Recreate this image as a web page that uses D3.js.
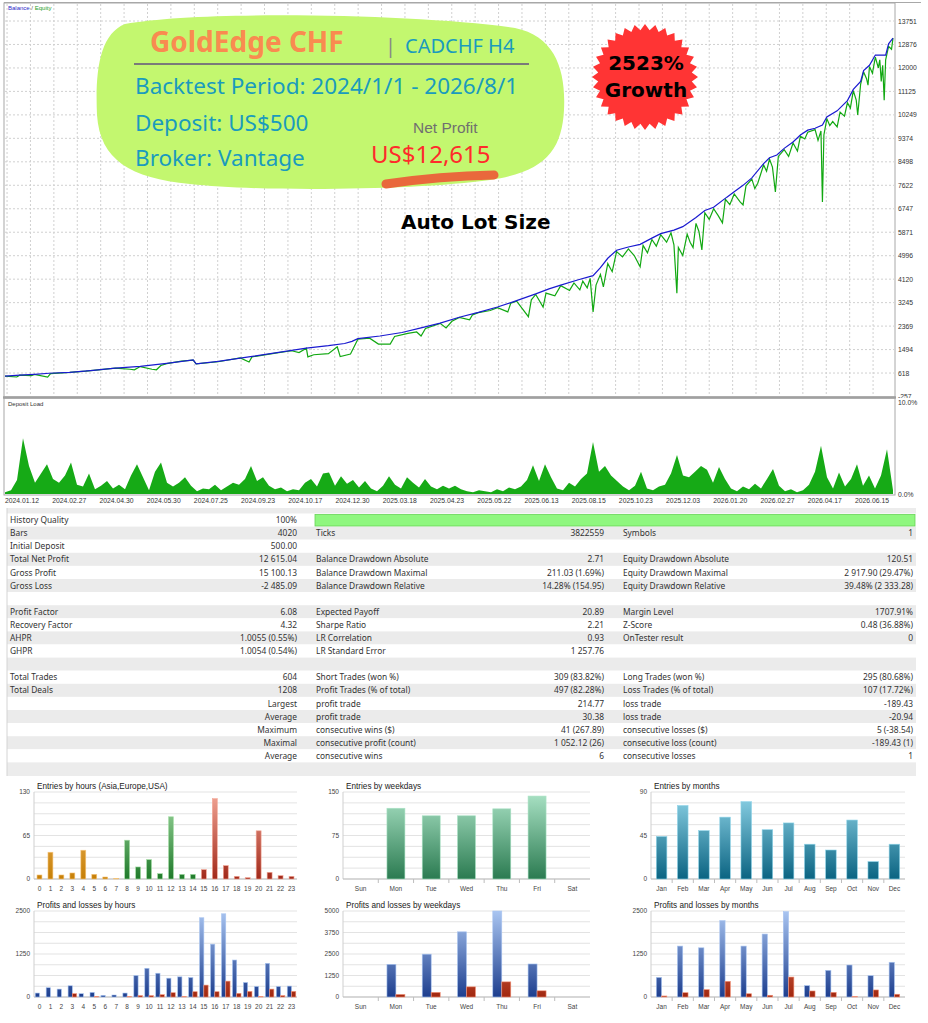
<!DOCTYPE html>
<html>
<head>
<meta charset="utf-8">
<script src="https://cdnjs.cloudflare.com/ajax/libs/d3/7.8.5/d3.min.js"></script>
<style>
body { margin: 0; background: #fff; }
svg { display: block; font-family: "Liberation Sans", Arial, sans-serif; }
</style>
</head>
<body>
<svg id="canvas" width="928" height="1023"></svg>
<script>
const balanceTicks = [13751, 12876, 12000, 11125, 10249, 9374, 8498, 7622, 6747, 5871, 4996, 4120, 3245, 2369, 1494, 618, -257];
const dateLabels = ["2024.01.12", "2024.02.27", "2024.04.30", "2024.05.30", "2024.07.25", "2024.09.23", "2024.10.17", "2024.12.30",
  "2025.03.18", "2025.04.23", "2025.05.22", "2025.06.13", "2025.08.15", "2025.10.23", "2025.12.03", "2026.01.20",
  "2026.02.27", "2026.04.17", "2026.06.15"];

// [trade number, balance]
const balance = [[0,500],[10,540],[20,570],[30,610],[44,640],[60,720],[75,800],[92,870],[110,980],[128,1110],[130,960],
  [145,1050],[167,1230],[185,1380],[205,1550],[220,1640],[231,1720],[236,1800],[240,1900],[255,2000],[270,2130],
  [283,2300],[296,2480],[309,2700],[322,2880],[335,3080],[348,3320],[361,3570],[370,3760],[378,3900],[390,4100],
  [400,4250],[405,4550],[410,4900],[416,5200],[424,5320],[432,5420],[440,5650],[446,5820],[455,5950],[461,6080],
  [470,6420],[476,6680],[482,6800],[491,7180],[496,7380],[502,7620],[508,7900],[516,8430],[520,8650],[525,8750],
  [530,9000],[536,9240],[541,9500],[546,9680],[551,9750],[556,9870],[559,10170],[566,10400],[573,10780],[577,11200],
  [582,11500],[584,11900],[588,12100],[592,12480],[599,12480],[601,12900],[604,13115]];

// [trade number, equity]
const equity = [[0,500],[8,470],[10,540],[18,520],[20,570],[29,470],[31,600],[44,640],[55,690],[60,720],[75,800],
  [85,760],[88,740],[92,860],[100,760],[103,740],[106,900],[110,970],[120,1060],[128,1100],[130,960],[145,1040],
  [160,1180],[166,1030],[168,1220],[185,1370],[195,1450],[200,1380],[205,1540],[206,1220],[210,1300],[220,1340],
  [226,1600],[228,1230],[235,1330],[240,1880],[248,1920],[254,1700],[262,1700],[265,1980],[274,2100],[280,2150],
  [283,2000],[286,2280],[296,2470],[300,2300],[304,2550],[309,2690],[316,2600],[318,2790],[322,2870],[330,2950],
  [335,3060],[342,2900],[344,3220],[348,3300],[356,2720],[358,3350],[361,3550],[366,3080],[368,3600],[374,3500],
  [378,3880],[384,3700],[387,3980],[391,3720],[393,4050],[396,3800],[398,4150],[400,2900],[402,3900],[405,4300],
  [407,3830],[410,4700],[413,4400],[416,5150],[420,4950],[424,5250],[428,5000],[432,4580],[434,5380],[437,5100],
  [440,5600],[443,5350],[446,5780],[450,5500],[453,5850],[455,5400],[457,3600],[458,5300],[461,5000],[464,5800],
  [466,5500],[468,5300],[470,6200],[472,5900],[474,5210],[476,6600],[479,6350],[482,6750],[485,6500],[488,6220],
  [490,7100],[493,6900],[496,7300],[500,7000],[502,6890],[504,7600],[508,7850],[510,7500],[512,7700],[516,8380],
  [518,8150],[520,8600],[522,8300],[524,7370],[526,8700],[530,8950],[533,8700],[536,9200],[539,8900],[541,9450],
  [544,9350],[546,9600],[551,9700],[553,9300],[555,9650],[556,7000],[557,9500],[559,10100],[561,9850],[563,10000],
  [566,9800],[568,10350],[571,10200],[573,10700],[575,10500],[577,11150],[579,10800],[580,10245],[582,11400],
  [584,11850],[586,11600],[587,11360],[588,12050],[590,11800],[592,12400],[594,12000],[595,12300],[596,11500],
  [597,12100],[598,10800],[599,12300],[601,12800],[603,12700],[604,13115]];

// deposit load, %
const depositLoad = [0.2,0.4,1.5,6.0,3.0,1.2,2.2,3.2,1.6,1.2,
  2.0,3.4,1.0,0.8,2.2,0.5,0.9,1.4,0.6,1.0,
  0.5,2.0,3.2,1.8,0.4,2.4,3.4,1.2,0.8,1.2,
  1.8,0.9,0.3,0.6,0.5,1.0,0.4,0.8,1.2,1.0,
  1.6,3.0,1.4,1.8,0.9,0.5,0.7,0.3,0.5,0.4,
  1.2,1.6,0.8,2.2,2.3,0.9,1.9,1.1,1.5,0.7,
  1.4,0.6,0.3,0.9,1.9,1.0,0.6,1.8,1.2,0.7,
  1.6,0.8,0.5,0.9,0.6,0.9,0.5,0.3,0.2,0.4,
  0.3,0.2,0.5,0.3,0.7,0.5,0.8,1.5,3.1,1.4,
  3.2,1.8,0.6,0.4,1.2,0.8,1.6,2.2,5.6,2.4,
  3.0,2.0,1.4,0.8,0.4,0.9,2.4,0.6,0.4,0.8,
  1.0,2.2,4.2,2.0,1.8,2.4,3.0,2.6,1.2,2.9,
  1.6,0.6,0.3,0.8,0.5,1.1,0.6,1.6,2.7,0.9,
  0.3,0.5,0.2,0.4,1.0,2.4,5.2,1.8,0.6,2.3,
  0.8,1.6,3.2,0.9,2.0,0.6,2.0,4.8,0.4];

const statRows = [
  ["History Quality", "100%", "", "", "", ""],
  ["Bars", "4020", "Ticks", "3822559", "Symbols", "1"],
  ["Initial Deposit", "500.00", "", "", "", ""],
  ["Total Net Profit", "12 615.04", "Balance Drawdown Absolute", "2.71", "Equity Drawdown Absolute", "120.51"],
  ["Gross Profit", "15 100.13", "Balance Drawdown Maximal", "211.03 (1.69%)", "Equity Drawdown Maximal", "2 917.90 (29.47%)"],
  ["Gross Loss", "-2 485.09", "Balance Drawdown Relative", "14.28% (154.95)", "Equity Drawdown Relative", "39.48% (2 333.28)"],
  ["", "", "", "", "", ""],
  ["Profit Factor", "6.08", "Expected Payoff", "20.89", "Margin Level", "1707.91%"],
  ["Recovery Factor", "4.32", "Sharpe Ratio", "2.21", "Z-Score", "0.48 (36.88%)"],
  ["AHPR", "1.0055 (0.55%)", "LR Correlation", "0.93", "OnTester result", "0"],
  ["GHPR", "1.0054 (0.54%)", "LR Standard Error", "1 257.76", "", ""],
  ["", "", "", "", "", ""],
  ["Total Trades", "604", "Short Trades (won %)", "309 (83.82%)", "Long Trades (won %)", "295 (80.68%)"],
  ["Total Deals", "1208", "Profit Trades (% of total)", "497 (82.28%)", "Loss Trades (% of total)", "107 (17.72%)"],
  ["", "Largest", "profit trade", "214.77", "loss trade", "-189.43"],
  ["", "Average", "profit trade", "30.38", "loss trade", "-20.94"],
  ["", "Maximum", "consecutive wins ($)", "41 (267.89)", "consecutive losses ($)", "5 (-38.54)"],
  ["", "Maximal", "consecutive profit (count)", "1 052.12 (26)", "consecutive loss (count)", "-189.43 (1)"],
  ["", "Average", "consecutive wins", "6", "consecutive losses", "1"]
];

const hours = ["0","1","2","3","4","5","6","7","8","9","10","11","12","13","14","15","16","17","18","19","20","21","22","23"];
const hourSession = ["Asia","Asia","Asia","Asia","Asia","Asia","Asia","Asia","Europe","Europe","Europe","Europe","Europe","Europe","Europe",
  "USA","USA","USA","USA","USA","USA","USA","USA","USA"];
const hourEntries = [6,40,6,9,43,7,3,1,58,18,29,8,93,7,7,14,120,20,4,2,72,10,5,4];
const weekdays = ["Sun","Mon","Tue","Wed","Thu","Fri","Sat"];
const weekdayEntries = [0,122,109,109,121,143,0];
const months = ["Jan","Feb","Mar","Apr","May","Jun","Jul","Aug","Sep","Oct","Nov","Dec"];
const monthEntries = [44,76,50,64,80,51,58,36,30,61,18,36];
const hourProfit = [115,270,230,326,96,134,48,58,115,624,835,691,547,586,566,2304,1536,2419,1075,422,307,979,307,317];
const hourLoss = [0,0,0,96,0,15,0,0,10,40,40,67,125,10,154,346,154,461,106,163,10,230,40,163];
const weekdayProfit = [0,1900,2490,3790,5000,1920,0];
const weekdayLoss = [0,150,270,590,880,360,0];
const monthProfit = [570,1480,1430,2220,1480,1830,2480,330,775,930,620,1010];
const monthLoss = [30,125,215,455,95,50,580,175,135,10,205,80];

let canvas = d3.select("#canvas");
let defs = canvas.append("defs");

// ---------- balance / equity ----------
let x = d3.scaleLinear().domain([0, 604]).range([5, 893]);
let y = d3.scaleLinear().domain([-257, 13751]).range([396.5, 21]);

canvas.append("rect").attr("x", 4).attr("y", 3).attr("width", 891).attr("height", 394)
  .attr("fill", "#fff").attr("stroke", "#a8a8a8");
canvas.append("line").attr("x1", 4).attr("x2", 921).attr("y1", 2.5).attr("y2", 2.5).attr("stroke", "#a8a8a8");

canvas.selectAll(".hgrid").data(balanceTicks.slice(0, -1)).enter().append("line")
  .attr("x1", 5).attr("x2", 894).attr("y1", d => y(d)).attr("y2", d => y(d))
  .attr("stroke", "#d0d0d0").attr("stroke-dasharray", "2,2");
canvas.selectAll(".vgrid").data(d3.range(1.4, 604, 15.92)).enter().append("line")
  .attr("x1", d => x(d)).attr("x2", d => x(d)).attr("y1", 4).attr("y2", 396)
  .attr("stroke", "#d0d0d0").attr("stroke-dasharray", "2,2");

canvas.selectAll(".ylab").data(balanceTicks).enter().append("text")
  .attr("x", 898).attr("y", d => y(d) + 2.5)
  .attr("font-size", 6.8).attr("fill", "#333").text(d => d);

let line = d3.line().x(d => x(d[0])).y(d => y(d[1]));
canvas.append("path").attr("d", line(equity)).attr("fill", "none").attr("stroke", "#12a812").attr("stroke-width", 1.2);
canvas.append("path").attr("d", line(balance)).attr("fill", "none").attr("stroke", "#1a1ad0").attr("stroke-width", 1.2);

let legend = canvas.append("text").attr("x", 8).attr("y", 10).attr("font-size", 6);
legend.append("tspan").attr("fill", "#2a2ac8").text("Balance");
legend.append("tspan").attr("fill", "#555").text(" / ");
legend.append("tspan").attr("fill", "#1ea01e").text("Equity");

// ---------- overlay annotations ----------
canvas.append("path")
  .attr("d", "M125,24 C200,10 420,14 515,28 C555,36 566,70 564,110 C562,150 545,172 490,180 C420,190 260,192 190,184 C130,178 100,160 97,115 C95,70 100,34 125,24 Z")
  .attr("fill", "#c3f76f");
canvas.append("text").attr("x", 150).attr("y", 52).attr("font-family", "Noto Sans").attr("font-weight", 700)
  .attr("font-size", 28).attr("fill", "#f98b50").text("GoldEdge CHF");
canvas.append("text").attr("x", 385).attr("y", 53).attr("font-family", "Noto Sans")
  .attr("font-size", 20).attr("fill", "#888").text("|");
canvas.append("text").attr("x", 405).attr("y", 53).attr("font-family", "Noto Sans")
  .attr("font-size", 20).attr("fill", "#1a9bbd").text("CADCHF H4");
canvas.append("line").attr("x1", 134).attr("x2", 529).attr("y1", 64).attr("y2", 64)
  .attr("stroke", "#7a7a7a").attr("stroke-width", 2);
let teal = [["Backtest Period: 2024/1/1 - 2026/8/1", 94], ["Deposit: US$500", 131], ["Broker: Vantage", 166]];
canvas.selectAll(".teal").data(teal).enter().append("text")
  .attr("x", 135).attr("y", d => d[1]).attr("font-family", "Noto Sans")
  .attr("font-size", 22.5).attr("fill", "#1a9bbd").text(d => d[0]);
canvas.append("text").attr("x", 413).attr("y", 133).attr("font-size", 15.5).attr("fill", "#707070").text("Net Profit");
canvas.append("text").attr("x", 371).attr("y", 163).attr("font-family", "Noto Sans")
  .attr("font-size", 24).attr("fill", "#ff2b2b").text("US$12,615");
canvas.append("path").attr("d", "M386,184 Q440,176 494,175").attr("fill", "none")
  .attr("stroke", "#e9683c").attr("stroke-width", 9).attr("stroke-linecap", "round");
canvas.append("text").attr("x", 401).attr("y", 229).attr("font-family", "DejaVu Sans").attr("font-weight", 700)
  .attr("font-size", 20).attr("fill", "#000").text("Auto Lot Size");

let burst = d3.range(64).map(k => {
  let a = k / 64 * 2 * Math.PI;
  let r = k % 2 ? 47 : 53;
  return [645 + r * Math.sin(a), 77 - r * Math.cos(a)];
});
canvas.append("path").attr("d", d3.line()(burst) + "Z").attr("fill", "#ff3434");
canvas.selectAll(".burst").data([["2523%", 70], ["Growth", 97]]).enter().append("text")
  .attr("x", 646).attr("y", d => d[1]).attr("text-anchor", "middle")
  .attr("font-family", "DejaVu Sans").attr("font-weight", 700).attr("font-size", 20).attr("fill", "#000")
  .text(d => d[0]);

// ---------- deposit load ----------
canvas.append("rect").attr("x", 896).attr("y", 398).attr("width", 32).attr("height", 8).attr("fill", "#fff");
canvas.append("rect").attr("x", 4).attr("y", 398).attr("width", 891).attr("height", 97)
  .attr("fill", "#fff").attr("stroke", "#a8a8a8");
canvas.append("line").attr("x1", 3).attr("x2", 896).attr("y1", 397.5).attr("y2", 397.5)
  .attr("stroke", "#a0a0a0").attr("stroke-width", 2.5);
let lx = d3.scaleLinear().domain([0, depositLoad.length - 1]).range([5, 893]);
let ly = d3.scaleLinear().domain([0, 10]).range([494, 401]);
canvas.append("path")
  .attr("d", d3.area().x((d, i) => lx(i)).y0(ly(0)).y1(d => ly(d))(depositLoad))
  .attr("fill", "#16aa16");
canvas.append("text").attr("x", 8).attr("y", 406).attr("font-size", 6).attr("fill", "#333").text("Deposit Load");
canvas.append("text").attr("x", 898).attr("y", 405).attr("font-size", 6.8).attr("fill", "#333").text("10.0%");
canvas.append("text").attr("x", 898).attr("y", 497).attr("font-size", 6.8).attr("fill", "#333").text("0.0%");
let dx = d3.scalePoint().domain(dateLabels).range([22, 872]);
canvas.selectAll(".date").data(dateLabels).enter().append("text")
  .attr("x", d => dx(d)).attr("y", 503).attr("text-anchor", "middle")
  .attr("font-size", 6.8).attr("fill", "#333").text(d => d);

// ---------- stats table ----------
let rowH = 13.1;
let rowTop = k => 513.5 + k * rowH;
canvas.append("rect").attr("x", 7).attr("y", 508).attr("width", 909).attr("height", 6).attr("fill", "#ececec");
canvas.selectAll(".row").data(statRows).enter().append("rect")
  .attr("x", 7).attr("y", (d, k) => rowTop(k)).attr("width", 909).attr("height", rowH)
  .attr("fill", (d, k) => k % 2 ? "#ebebeb" : "#fff");
canvas.append("rect").attr("x", 7).attr("y", rowTop(statRows.length)).attr("width", 909)
  .attr("height", 776 - rowTop(statRows.length)).attr("fill", "#ececec");
canvas.append("line").attr("x1", 7).attr("x2", 7).attr("y1", 508).attr("y2", 776).attr("stroke", "#d4d4d4");
canvas.append("rect").attr("x", 315).attr("y", 514.5).attr("width", 600).attr("height", 11.5)
  .attr("fill", "#8ff77f").attr("stroke", "#66d456").attr("stroke-width", 0.8);

let cols = [[10, "start"], [297, "end"], [316, "start"], [604, "end"], [623, "start"], [913, "end"]];
statRows.forEach((row, k) => {
  canvas.selectAll(null).data(row).enter().append("text")
    .attr("x", (d, c) => cols[c][0]).attr("y", rowTop(k) + 9.6)
    .attr("text-anchor", (d, c) => cols[c][1])
    .attr("font-family", "Noto Sans").attr("font-size", 8.4).attr("fill", "#333")
    .text(d => d);
});

// ---------- small bar charts ----------
let palette = {
  Asia: ["#f7c67c", "#c67f06"],
  Europe: ["#a9dfa9", "#1f7a2a"],
  USA: ["#f3a797", "#a1291a"],
  entries: ["#abe3c6", "#2b7b51"],
  months: ["#90d5e9", "#0b6482"],
  profit: ["#a9c5f1", "#1d3e8e"],
  loss: ["#f39277", "#a1270f"]
};

let barChart = (cfg) => {
  let g = canvas.append("g");
  Object.keys(palette).forEach(key => {
    let grad = defs.append("linearGradient").attr("id", cfg.id + key).attr("gradientUnits", "userSpaceOnUse")
      .attr("x1", 0).attr("x2", 0).attr("y1", cfg.top).attr("y2", cfg.bottom);
    grad.append("stop").attr("offset", "0%").attr("stop-color", palette[key][0]);
    grad.append("stop").attr("offset", "100%").attr("stop-color", palette[key][1]);
  });
  let xb = d3.scaleBand().domain(cfg.cats).range([cfg.x0, cfg.x1]).paddingInner(cfg.pad).paddingOuter(cfg.pad / 2);
  let yb = d3.scaleLinear().domain([0, cfg.max]).range([cfg.bottom, cfg.top]);
  let sub = d3.scaleBand().domain(d3.range(cfg.series.length)).range([0, xb.bandwidth()]);

  g.selectAll(".grid").data(d3.range(9).map(k => cfg.max * k / 8)).enter().append("line")
    .attr("x1", cfg.x0).attr("x2", cfg.x1).attr("y1", d => yb(d)).attr("y2", d => yb(d))
    .attr("stroke", "#dcdcdc").attr("stroke-width", 0.8);
  g.append("line").attr("x1", cfg.x0).attr("x2", cfg.x0).attr("y1", cfg.top).attr("y2", cfg.bottom)
    .attr("stroke", "#cfcfcf");
  g.append("line").attr("x1", cfg.x0).attr("x2", cfg.x1).attr("y1", cfg.bottom).attr("y2", cfg.bottom)
    .attr("stroke", "#bdbdbd");
  if (cfg.ticks) {
    g.selectAll(".tick").data(cfg.cats.slice(1)).enter().append("line")
      .attr("x1", d => xb(d) - xb.step() * cfg.pad / 2).attr("x2", d => xb(d) - xb.step() * cfg.pad / 2)
      .attr("y1", cfg.bottom).attr("y2", cfg.bottom + 4).attr("stroke", "#bdbdbd");
  }
  g.selectAll(".ylab").data(cfg.labels).enter().append("text")
    .attr("x", cfg.x0 - 4).attr("y", d => yb(d) + 2.3).attr("text-anchor", "end")
    .attr("font-size", 6.5).attr("fill", "#444").text(d => d);
  g.append("text").attr("x", cfg.x0 + 3).attr("y", cfg.top - 3)
    .attr("font-size", 8.2).attr("fill", "#222").text(cfg.title);

  cfg.series.forEach((s, si) => {
    g.selectAll(null).data(s.values.map((v, i) => ({ v: v, i: i })).filter(d => d.v > 0)).enter().append("rect")
      .attr("x", d => xb(cfg.cats[d.i]) + sub(si)).attr("width", sub.bandwidth())
      .attr("y", d => yb(d.v)).attr("height", d => yb(0) - yb(d.v))
      .attr("fill", d => "url(#" + cfg.id + s.color(d.i) + ")")
      .attr("stroke", d => palette[s.color(d.i)][0]).attr("stroke-width", 0.6);
  });

  g.selectAll(".xlab").data(cfg.cats).enter().append("text")
    .attr("x", d => xb(d) + xb.bandwidth() / 2).attr("y", cfg.bottom + 11.5).attr("text-anchor", "middle")
    .attr("font-size", 6.5).attr("fill", "#444").text(d => d);
};

barChart({ id: "c1", title: "Entries by hours (Asia,Europe,USA)", cats: hours, x0: 34, x1: 297, top: 792, bottom: 879,
  max: 130, labels: [0, 65, 130], pad: 0.55, ticks: false,
  series: [{ values: hourEntries, color: i => hourSession[i] }] });
barChart({ id: "c2", title: "Entries by weekdays", cats: weekdays, x0: 343, x1: 590, top: 792, bottom: 879,
  max: 150, labels: [0, 75, 150], pad: 0.49, ticks: true,
  series: [{ values: weekdayEntries, color: i => "entries" }] });
barChart({ id: "c3", title: "Entries by months", cats: months, x0: 651, x1: 905, top: 792, bottom: 879,
  max: 90, labels: [0, 45, 90], pad: 0.5, ticks: true,
  series: [{ values: monthEntries, color: i => "months" }] });
barChart({ id: "c4", title: "Profits and losses by hours", cats: hours, x0: 34, x1: 297, top: 911, bottom: 997,
  max: 2500, labels: [0, 1250, 2500], pad: 0.22, ticks: false,
  series: [{ values: hourProfit, color: i => "profit" }, { values: hourLoss, color: i => "loss" }] });
barChart({ id: "c5", title: "Profits and losses by weekdays", cats: weekdays, x0: 343, x1: 590, top: 911, bottom: 997,
  max: 5000, labels: [0, 1250, 2500, 3750, 5000], pad: 0.49, ticks: true,
  series: [{ values: weekdayProfit, color: i => "profit" }, { values: weekdayLoss, color: i => "loss" }] });
barChart({ id: "c6", title: "Profits and losses by months", cats: months, x0: 651, x1: 905, top: 911, bottom: 997,
  max: 2500, labels: [0, 1250, 2500], pad: 0.5, ticks: true,
  series: [{ values: monthProfit, color: i => "profit" }, { values: monthLoss, color: i => "loss" }] });
</script>
</body>
</html>
